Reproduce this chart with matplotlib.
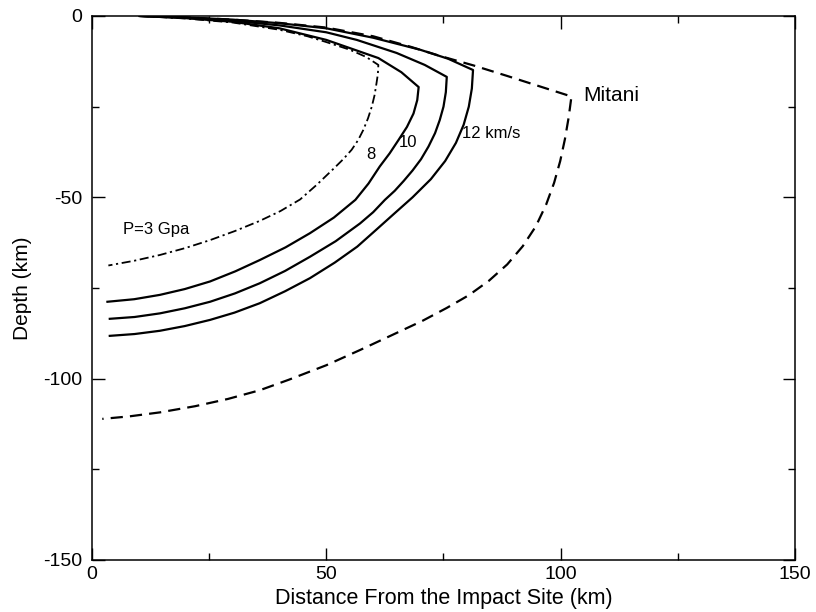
import matplotlib.pyplot as plt

plt.rcParams['font.family'] = ['Liberation Sans', 'DejaVu Sans']
plt.rcParams['axes.unicode_minus'] = False

# shock-front depth profiles (distance km, depth km): upper branch out to the tip, then lower arc back
p3_x = [10.2, 20, 30, 40, 46, 50, 55, 58.5, 61.1,
        61.0, 60.7, 60.3, 59.7, 58.9, 57.9, 56.8, 55.4, 53.6, 51.8, 48.0, 44.4,
        40.2, 35.8, 30.5, 25.2, 19.9, 14.5, 9, 3.5]
p3_y = [0, -0.7, -1.8, -3.8, -5.6, -7.2, -9.3, -11.3, -13.5,
        -16.0, -18.6, -21.8, -25.0, -28.2, -31.4, -34.2, -36.9, -39.5, -41.8, -46.5, -50.6,
        -53.8, -56.5, -59.3, -61.8, -64.0, -65.9, -67.5, -68.8]

v8_x = [10.2, 20, 30, 40, 50, 56, 61.1, 66, 69.7,
        69.4, 68.6, 67.2, 65.4, 63.5, 61.4, 59.0, 56.2, 51.6, 46.5,
        41.3, 35.8, 30.6, 25.2, 19.8, 14.5, 9, 3.3]
v8_y = [0, -0.6, -1.6, -3.4, -6.6, -9.3, -11.6, -15.5, -19.6,
        -23.2, -26.9, -30.6, -34.2, -37.9, -41.5, -46.2, -50.7, -55.6, -59.9,
        -63.8, -67.3, -70.4, -73.2, -75.3, -76.9, -78.1, -78.8]

v10_x = [10.2, 20, 30, 40, 50, 56.5, 65, 71, 75.7,
         75.5, 75.0, 74.2, 73.2, 71.8, 70.2, 68.4, 66.5, 64.6, 62.5, 60.0, 57.2,
         52.0, 46.5, 41.2, 35.8, 30.5, 25.2, 19.8, 14.5, 9.1, 3.8]
v10_y = [0, -0.5, -1.3, -2.6, -4.5, -6.6, -10.2, -13.5, -16.8,
         -21.0, -25.0, -28.7, -32.3, -36.0, -39.5, -42.6, -45.5, -48.2, -50.7, -54.1, -57.2,
         -62.1, -66.4, -70.3, -73.7, -76.5, -78.8, -80.6, -82.0, -83.0, -83.5]

v12_x = [10.2, 20, 30, 40, 50, 60, 70, 76, 81.3,
         81.05, 80.4, 79.3, 77.65, 75.35, 72.3, 68.4, 64.4, 60.6, 56.6,
         51.8, 46.5, 41.2, 35.8, 30.4, 25.2, 19.8, 14.5, 9.1, 3.8]
v12_y = [0, -0.4, -1.0, -2.0, -3.4, -6.0, -9.3, -11.8, -14.9,
         -20.0, -25.0, -30.0, -35.0, -40.0, -45.0, -50.0, -54.6, -59.0, -63.6,
         -68.0, -72.3, -75.9, -79.2, -81.8, -83.8, -85.5, -86.8, -87.7, -88.2]

mitani_x = [10.2, 20, 30, 40, 50, 60, 68, 74.2, 81.3, 88.5, 95.5, 102.3,
            101.7, 100.9, 99.9, 98.6, 96.9, 94.7, 91.9, 88.6, 84.7, 80.4, 75.7, 70.6, 64.0,
            57.2, 50.0, 42.0, 35.8, 29.0, 22.0, 14.5, 8.0, 2.2]
mitani_y = [0, -0.4, -1.0, -1.9, -3.2, -5.6, -8.5, -11.0, -13.6, -16.5, -19.4, -22.2,
            -28.0, -34.0, -40.0, -46.0, -52.0, -58.0, -63.5, -68.5, -73.0, -77.0, -80.5, -84.0, -88.0,
            -92.1, -96.3, -100.3, -103.2, -105.6, -107.6, -109.3, -110.4, -111.1]

fig = plt.figure(figsize=(8.16, 6.12), dpi=100)
ax = fig.add_axes([0.1127, 0.085, 0.8616, 0.8889])

ax.plot(p3_x, p3_y, color='k', lw=1.3, dashes=(5, 2, 1.2, 2))
ax.plot(v8_x, v8_y, color='k', lw=1.6)
ax.plot(v10_x, v10_y, color='k', lw=1.6)
ax.plot(v12_x, v12_y, color='k', lw=1.6)
ax.plot(mitani_x, mitani_y, color='k', lw=1.6, dashes=(5.5, 3.2))

ax.text(6.6, -59, 'P=3 Gpa', fontsize=12, va='center')
ax.text(59.5, -38.3, '8', fontsize=12, ha='center', va='center')
ax.text(67.5, -34.9, '10', fontsize=12, ha='center', va='center')
ax.text(78.9, -32.4, '12 km/s', fontsize=12, va='center')
ax.text(104.8, -22.0, 'Mitani', fontsize=15, va='center')

ax.set_xlim(0, 150)
ax.set_ylim(-150, 0)
ax.set_xticks([0, 50, 100, 150])
ax.set_xticks([25, 75, 125], minor=True)
ax.set_yticks([-150, -100, -50, 0])
ax.set_yticks([-125, -75, -25], minor=True)
ax.tick_params(which='both', direction='in', top=True, right=True, labelsize=14, width=1)
ax.tick_params(which='major', length=9)
ax.tick_params(which='minor', length=5)
ax.tick_params(axis='x', which='major', pad=4)
ax.tick_params(axis='y', which='major', pad=7)
for s in ax.spines.values():
    s.set_linewidth(1.1)

ax.set_xlabel('Distance From the Impact Site (km)', fontsize=15.5, labelpad=4)
ax.set_ylabel('Depth (km)', fontsize=15, labelpad=8)

fig.savefig('out.png', dpi=100)
